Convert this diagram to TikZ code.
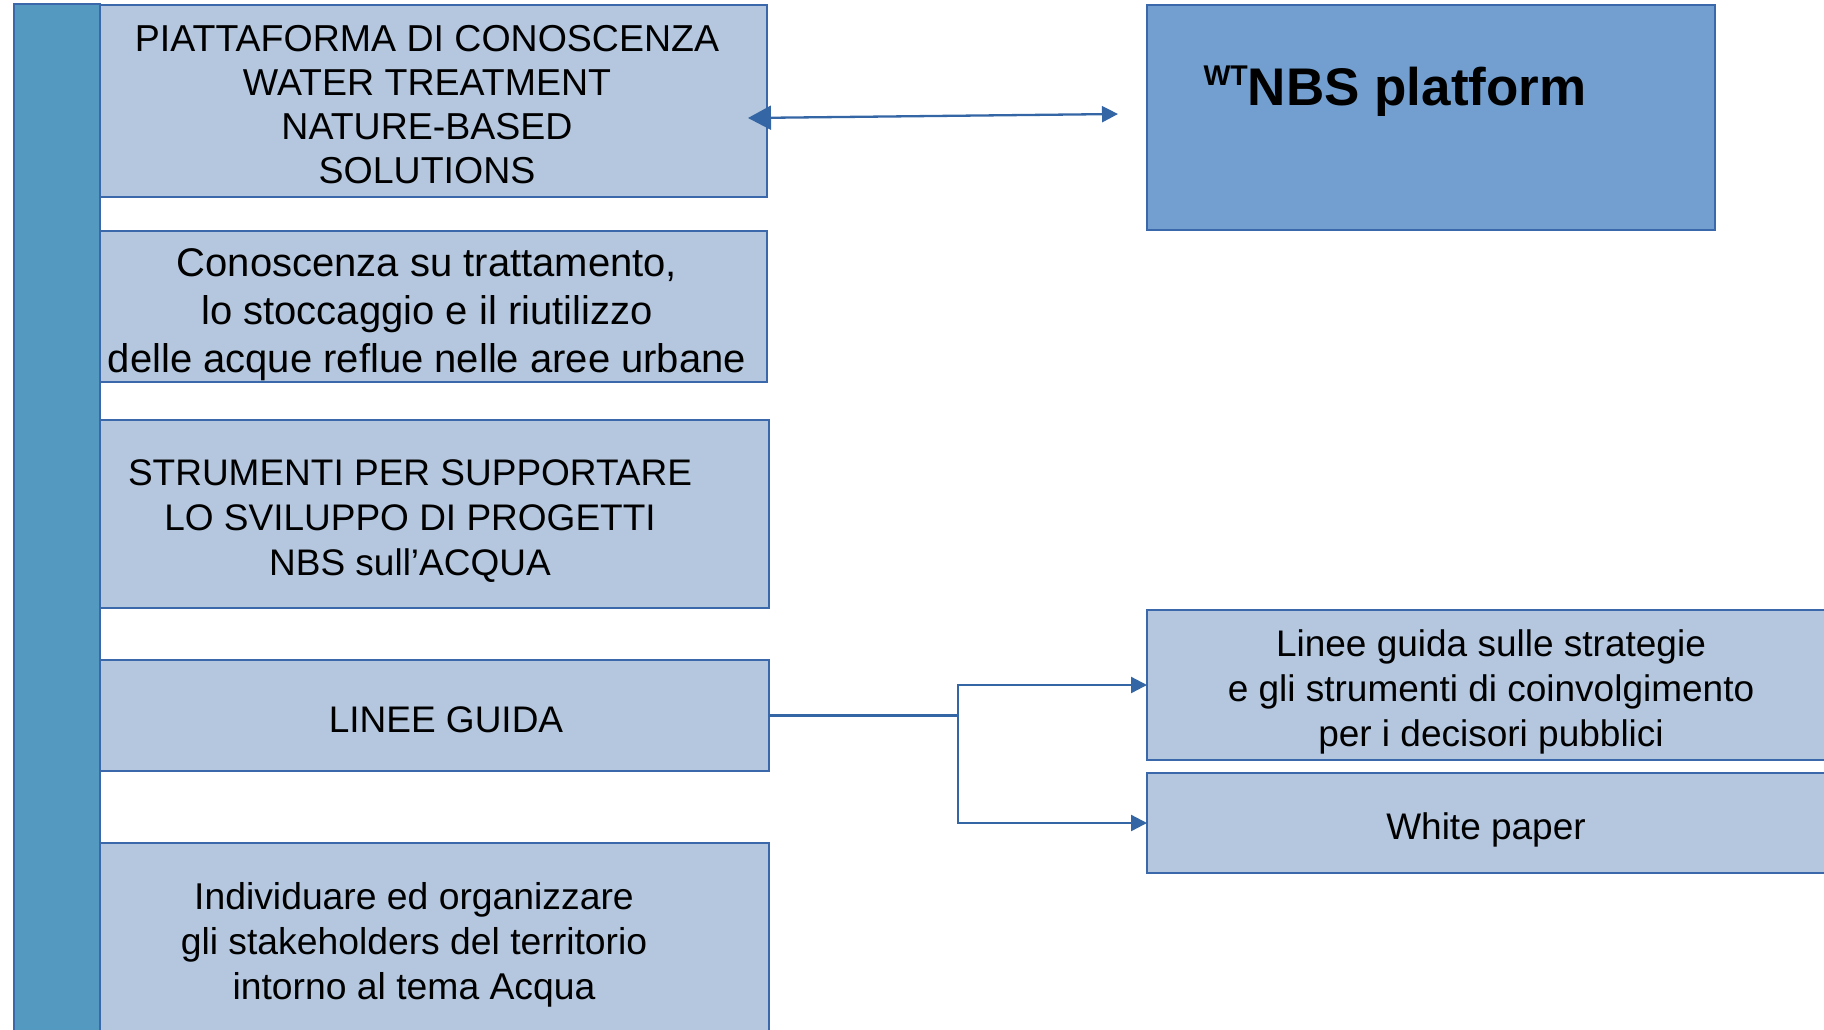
\documentclass[tikz,border=0pt]{standalone}
\usepackage{fontspec}
\setmainfont{Liberation Sans}
\usetikzlibrary{arrows.meta}
\definecolor{barblue}{HTML}{5499C0}
\definecolor{boxfill}{HTML}{B4C7DE}
\definecolor{edgeblue}{HTML}{3A68AA}
\definecolor{nbsfill}{HTML}{729FCF}
\definecolor{arrowblue}{HTML}{3465A4}
\begin{document}
\begin{tikzpicture}[x=1pt,y=-1pt,
  box/.style={draw=edgeblue, line width=2pt, fill=boxfill, inner sep=0pt, outer sep=0pt, anchor=north west},
  txt/.style={align=center, inner sep=0pt, text=black, font=\fontsize{37}{45}\selectfont},
  conn/.style={draw=arrowblue, line width=2.3pt},
  tipsmall/.style={-{Triangle[length=16pt,width=16pt]}}
]
\useasboundingbox (0,0) rectangle (1824,1029);
\clip (0,0) rectangle (1824,1029);
% left bar
\node[box, fill=barblue, minimum width=86pt, minimum height=1040pt] (bar) at (14,3.5) {};
% left boxes
\node[box, minimum width=667pt, minimum height=192pt] (b1) at (100,4.7) {};
\node[box, minimum width=667pt, minimum height=151pt] (b2) at (100,231) {};
\node[box, minimum width=669pt, minimum height=188pt] (b3) at (100,420) {};
\node[box, minimum width=669pt, minimum height=111pt] (b4) at (100,660) {};
\node[box, minimum width=669pt, minimum height=197pt] (b5) at (100,843) {};
% right boxes
\node[box, fill=nbsfill, minimum width=568pt, minimum height=225pt] (nbs) at (1147,4.7) {};
\node[box, minimum width=693pt, minimum height=150pt] (g1) at (1147,610) {};
\node[box, minimum width=693pt, minimum height=100pt] (g2) at (1147,773) {};
% texts
\node[txt, font=\fontsize{37.5}{44}\selectfont] (t1) at (427,105) {PIATTAFORMA DI CONOSCENZA\\WATER TREATMENT\\NATURE-BASED\\SOLUTIONS};
\node[txt, font=\fontsize{40}{48}\selectfont] (t2) at (427,315) {Conoscenza su trattamento,\\lo stoccaggio e il riutilizzo\\delle acque reflue nelle aree urbane};
\node[txt] (t3) at (410,521) {STRUMENTI PER SUPPORTARE\\LO SVILUPPO DI PROGETTI\\NBS sull’ACQUA};
\node[txt] (t4) at (446,719.5) {LINEE GUIDA};
\node[txt, font=\fontsize{37.3}{45}\selectfont] (t5) at (414,945) {Individuare ed organizzare\\gli stakeholders del territorio\\intorno al tema Acqua};
\node[txt] (t6) at (1491,692) {Linee guida sulle strategie\\e gli strumenti di coinvolgimento\\per i decisori pubblici};
\node[txt] (t7) at (1486,830) {White paper};
\node[txt, font=\fontsize{53}{60}\selectfont\bfseries] (t8) at (1395,91) {{\fontsize{28.5}{30}\selectfont\raisebox{20.5pt}{WT}}NBS platform};
% connectors
\coordinate (a1) at (748,118);
\coordinate (a2) at (1118,114);
\draw[conn, {Triangle[length=23pt,width=24pt]}-{Triangle[length=16pt,width=16pt]}] (a1) -- (a2);
\coordinate (jx) at (958,0);
\coordinate (j) at (b4.east -| jx);
\draw[conn] (b4.east) -- (j);
\draw[conn, tipsmall] (j) |- (g1.west);
\draw[conn, tipsmall] (j) |- (g2.west);
\end{tikzpicture}
\end{document}
